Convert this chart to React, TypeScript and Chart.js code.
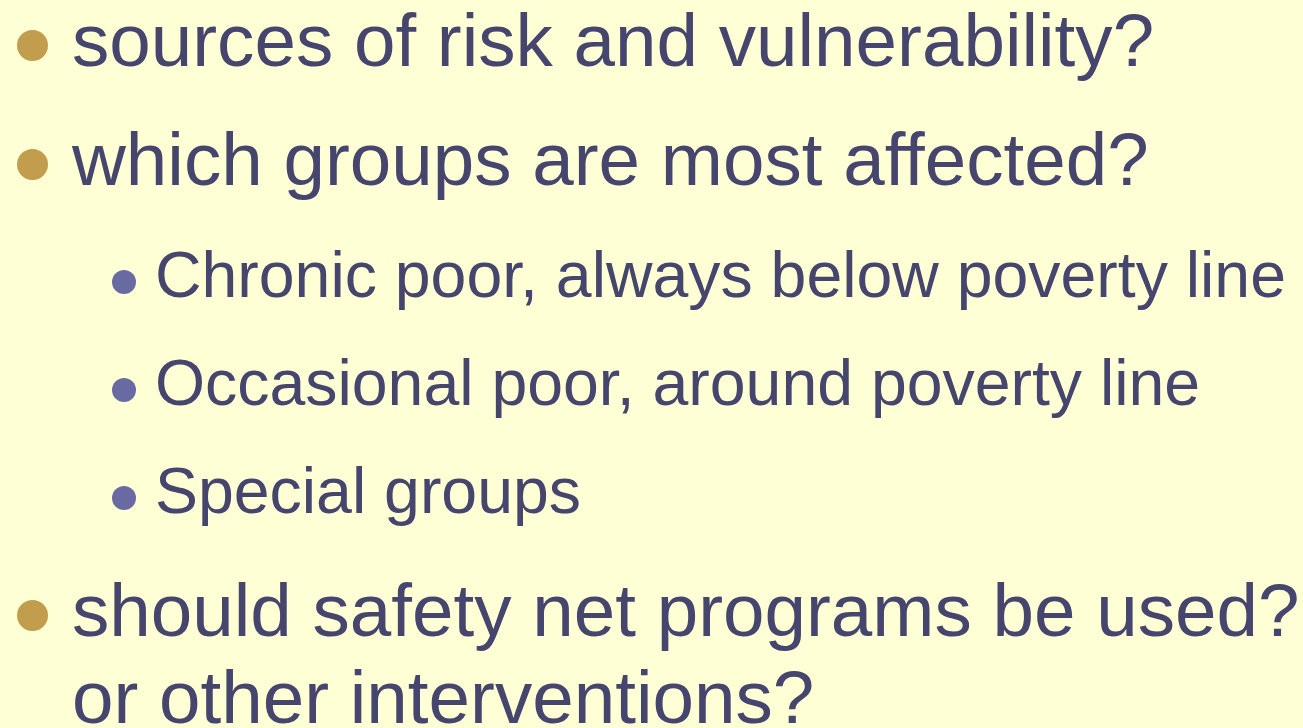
import React, { useEffect, useRef } from "react";
import { Chart, registerables } from "chart.js";

Chart.register(...registerables);

// Slide content
const lines: string[] = [
  "sources of risk and vulnerability?",
  "which groups are most affected?",
  "Chronic poor, always below poverty line",
  "Occasional poor, around poverty line",
  "Special groups",
  "should safety net programs be used?",
  "or other interventions?",
];
// 1 = main bullet, 2 = sub bullet, 0 = continuation line (no bullet)
const levels: number[] = [1, 1, 2, 2, 2, 1, 0];

const W = 1303;
const H = 728;
const BG = "#FFFFD5";
const TEXT = "#45456D";
const GOLD = "#C29D4D";
const PURPLE = "#6A6AA2";
const FONT = "'Liberation Sans', Arial, sans-serif";

function gap(prev: number, cur: number): number {
  if (cur === 0) return 87;
  if (prev === 1 && cur === 1) return 119;
  if (prev === 1 && cur === 2) return 112;
  if (prev === 2 && cur === 2) return 108;
  if (prev === 2 && cur === 1) return 123;
  return 119;
}

function layout() {
  const base: number[] = [];
  let y = 66;
  levels.forEach((lv, i) => {
    if (i > 0) y += gap(levels[i - 1] === 0 ? 1 : levels[i - 1], lv);
    base.push(y);
  });
  return base;
}

export default function App() {
  const ref = useRef<HTMLCanvasElement | null>(null);

  useEffect(() => {
    document.body.style.margin = "0";
    const canvas = ref.current;
    if (!canvas) return;
    const base = layout();

    const mainPts: { x: number; y: number }[] = [];
    const subPts: { x: number; y: number }[] = [];
    levels.forEach((lv, i) => {
      if (lv === 1) mainPts.push({ x: 32.5, y: base[i] - 20.5 });
      if (lv === 2) subPts.push({ x: 124, y: base[i] - 15 });
    });

    const textPlugin = {
      id: "slideText",
      beforeDraw(chart: any) {
        const c = chart.ctx;
        c.save();
        c.fillStyle = BG;
        c.fillRect(0, 0, chart.width, chart.height);
        c.restore();
      },
      afterDatasetsDraw(chart: any) {
        const c = chart.ctx;
        const xs = chart.scales.x;
        const ys = chart.scales.y;
        c.save();
        c.fillStyle = TEXT;
        c.textBaseline = "alphabetic";
        c.textAlign = "left";
        lines.forEach((t, i) => {
          const lv = levels[i];
          const size = lv === 2 ? 64.4 : 74.6;
          const tx = lv === 2 ? 155 : 72;
          c.font = `${size}px ${FONT}`;
          c.fillText(t, xs.getPixelForValue(tx), ys.getPixelForValue(base[i]));
        });
        c.restore();
      },
    };

    const chart = new Chart(canvas, {
      type: "scatter",
      data: {
        datasets: [
          {
            data: mainPts,
            pointRadius: 15.5,
            pointBackgroundColor: GOLD,
            pointBorderWidth: 0,
            pointHoverRadius: 15.5,
            clip: false,
          },
          {
            data: subPts,
            pointRadius: 12,
            pointBackgroundColor: PURPLE,
            pointBorderWidth: 0,
            pointHoverRadius: 12,
            clip: false,
          },
        ],
      },
      options: {
        animation: false,
        responsive: false,
        devicePixelRatio: 1,
        layout: { padding: 0, autoPadding: false },
        events: [],
        plugins: {
          legend: { display: false },
          tooltip: { enabled: false },
          title: { display: false },
        },
        scales: {
          x: { type: "linear", min: 0, max: W, display: false },
          y: { type: "linear", min: 0, max: H, reverse: true, display: false },
        },
      },
      plugins: [textPlugin],
    });
    return () => chart.destroy();
  }, []);

  return (
    <div style={{ width: W, height: H, background: BG }}>
      <canvas ref={ref} width={W} height={H} style={{ display: "block" }} />
    </div>
  );
}
